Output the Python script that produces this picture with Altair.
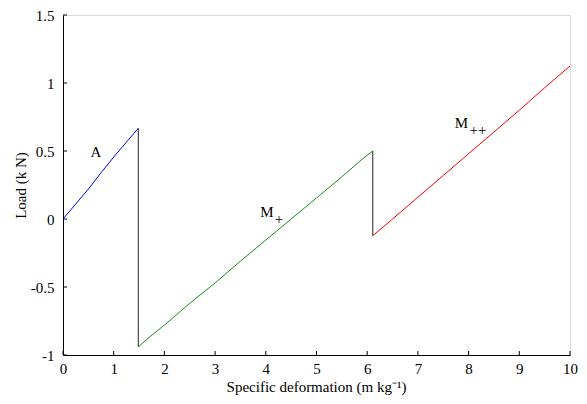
import altair as alt
import pandas as pd

# Data
a_x = [0, 0.25, 0.5, 0.75, 1.0, 1.25, 1.485]
a_y = [0, 0.11, 0.22, 0.34, 0.455, 0.565, 0.667]
mp_x = [1.485, 1.7, 2.0, 2.5, 3.0, 3.5, 4.0, 4.5, 5.0, 5.5, 5.9, 6.11]
mp_y = [-0.94, -0.87, -0.78, -0.62, -0.47, -0.31, -0.155, 0.0, 0.155, 0.31, 0.44, 0.50]
mpp_x = [6.11, 6.5, 7.0, 7.5, 8.0, 8.5, 9.0, 9.5, 10.0]
mpp_y = [-0.123, 0.0, 0.16, 0.32, 0.48, 0.64, 0.80, 0.965, 1.125]
drop_x = [1.485, 6.11]
drop_top = [0.667, 0.50]
drop_bottom = [-0.94, -0.123]
x_ticks = [0, 1, 2, 3, 4, 5, 6, 7, 8, 9, 10]
y_ticks = [-1, -0.5, 0, 0.5, 1, 1.5]

W, H = 507, 340
FONT = "Liberation Serif"

lines = pd.DataFrame(
    [{"x": x, "y": y, "s": "A"} for x, y in zip(a_x, a_y)]
    + [{"x": x, "y": y, "s": "M+"} for x, y in zip(mp_x, mp_y)]
    + [{"x": x, "y": y, "s": "M++"} for x, y in zip(mpp_x, mpp_y)]
)
drops = pd.DataFrame({"x": drop_x, "top": drop_top, "bottom": drop_bottom})

xs = alt.Scale(domain=[0, 10], nice=False, zero=False)
ys = alt.Scale(domain=[-1, 1.5], nice=False, zero=False)

xaxis = alt.Axis(values=x_ticks, tickSize=0, grid=False, domainColor="black",
                 labelExpr="toString(datum.value)",
                 labelFont=FONT, labelFontSize=15, labelColor="black", labelPadding=6,
                 title="Specific deformation (m kg⁻¹)", titleFont=FONT, titleFontSize=15,
                 titleFontWeight="normal", titleColor="black",
                 titleX=253, titleY=36, titleBaseline="alphabetic", titleAlign="center",
                 labelFlush=False)
yaxis = alt.Axis(values=y_ticks, tickSize=0, grid=False, domainColor="black",
                 labelExpr="toString(datum.value)",
                 labelFont=FONT, labelFontSize=15, labelColor="black", labelPadding=9,
                 title="Load (k N)", titleFont=FONT, titleFontSize=15,
                 titleFontWeight="normal", titleColor="black",
                 titleX=-43, titleY=170, titleAngle=-90, titleBaseline="middle",
                 titleAlign="center", labelFlush=False)

base = alt.Chart(lines)
curves = base.mark_line(strokeWidth=1).encode(
    x=alt.X("x:Q", scale=xs, axis=xaxis),
    y=alt.Y("y:Q", scale=ys, axis=yaxis),
    color=alt.Color("s:N", scale=alt.Scale(domain=["A", "M+", "M++"],
                                           range=["#0000ff", "#1a8c1a", "#ff0000"]),
                    legend=None),
    detail="s:N",
)
drop_rules = alt.Chart(drops).mark_rule(color="#222222", strokeWidth=1).encode(
    x=alt.X("x:Q", scale=xs), y=alt.Y("top:Q", scale=ys), y2="bottom:Q"
)

xt = alt.Chart(pd.DataFrame({"v": x_ticks})).mark_rule(color="black").encode(
    x=alt.X("v:Q", scale=xs), y=alt.value(H), y2=alt.value(H - 4)
)
yt = alt.Chart(pd.DataFrame({"v": y_ticks})).mark_rule(color="black").encode(
    y=alt.Y("v:Q", scale=ys), x=alt.value(0), x2=alt.value(4)
)

labels = pd.DataFrame({
    "x": [0.65, 4.02, 7.86],
    "y": [0.493, 0.054, 0.708],
    "main": ["A", "M", "M"],
    "sub": ["", "+", "++"],
})
main_txt = alt.Chart(labels).mark_text(font=FONT, fontSize=15, color="black").encode(
    x=alt.X("x:Q", scale=xs), y=alt.Y("y:Q", scale=ys), text="main:N"
)
sub_txt = alt.Chart(labels).mark_text(font=FONT, fontSize=15, color="black",
                                      align="left", dx=8, dy=7).encode(
    x=alt.X("x:Q", scale=xs), y=alt.Y("y:Q", scale=ys), text="sub:N"
)

chart = alt.layer(curves, drop_rules, xt, yt, main_txt, sub_txt).properties(
    width=W, height=H,
    autosize=alt.AutoSizeParams(type="none"),
    padding={"left": 55, "top": 7, "right": 9, "bottom": 41},
).configure_view(stroke=None).configure(background="white", font=FONT)

chart.save("out.html", embed_options={"renderer": "svg", "actions": False})
